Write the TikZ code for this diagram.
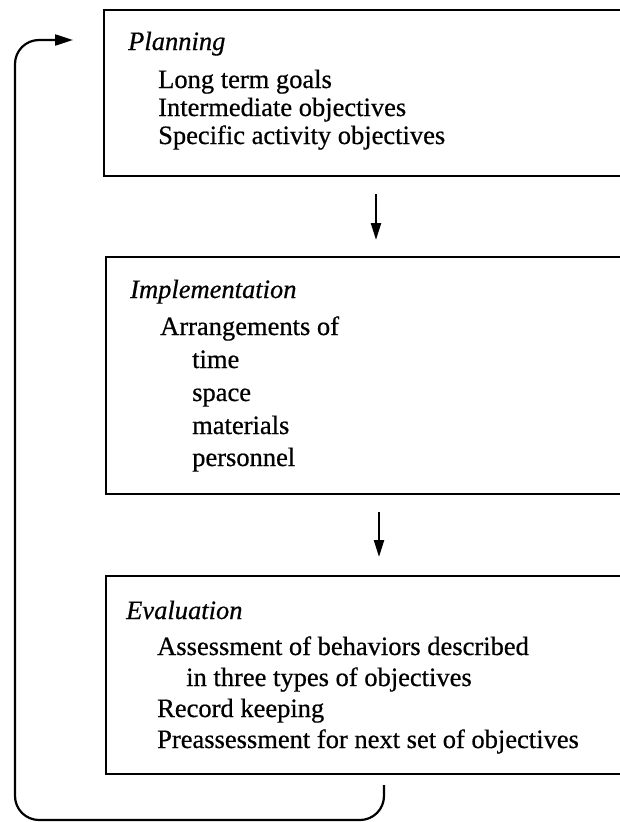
\documentclass[tikz,border=0pt]{standalone}
\usepackage{fontspec}
\setmainfont[FakeBold=0.6]{Liberation Serif}
\usetikzlibrary{arrows.meta}
\begin{document}
\begin{tikzpicture}[x=1pt,y=-1pt,
  box/.style={draw, line width=2pt, rectangle, anchor=north west, inner sep=0pt},
  ttl/.style={anchor=base west, inner sep=0pt, font=\fontsize{26.5}{30}\selectfont\itshape},
  itm/.style={anchor=base west, inner sep=0pt, font=\fontsize{26.5}{30}\selectfont},
  flow/.style={line width=2.2pt, -{Triangle[length=17pt,width=10pt]}},
]
\useasboundingbox (0,0) rectangle (620,822);
% boxes
\node[box, minimum width=540pt, minimum height=166pt] (plan) at (103,9) {};
\node[box, minimum width=540pt, minimum height=237pt] (impl) at (105,256) {};
\node[box, minimum width=540pt, minimum height=198pt] (eval) at (105,575) {};
% planning text
\node[ttl] (pt) at (128,50) {Planning};
\node[itm] (p1) at (158,88) {Long term goals};
\node[itm] (p2) at (158,116) {Intermediate objectives};
\node[itm] (p3) at (158,144) {Specific activity objectives};
% implementation text
\node[ttl] (it) at (130,298) {Implementation};
\node[itm] (i1) at (160,335) {Arrangements of};
\node[itm] (i2) at (192,368) {time};
\node[itm] (i3) at (192,401) {space};
\node[itm] (i4) at (192,434) {materials};
\node[itm] (i5) at (192,466) {personnel};
% evaluation text
\node[ttl] (et) at (126,619) {Evaluation};
\node[itm] (e1) at (157,655) {Assessment of behaviors described};
\node[itm] (e2) at (186,686) {in three types of objectives};
\node[itm] (e3) at (157,717) {Record keeping};
\node[itm] (e4) at (157,748) {Preassessment for next set of objectives};
% arrows
\draw[flow, shorten <=17pt, shorten >=16pt] ([xshift=2pt]plan.south) -- ([xshift=0pt]impl.north);
\draw[flow, shorten <=17pt, shorten >=18pt] ([xshift=3pt]impl.south) -- ([xshift=3pt]eval.north);
% feedback loop
\coordinate (fbs) at (384,785);
\coordinate (fbe) at (73,40);
\draw[line width=2.2pt, rounded corners=24pt, -{Triangle[length=18pt,width=11pt]}]
  (fbs) |- (15,820) |- (fbe);
\end{tikzpicture}
\end{document}
